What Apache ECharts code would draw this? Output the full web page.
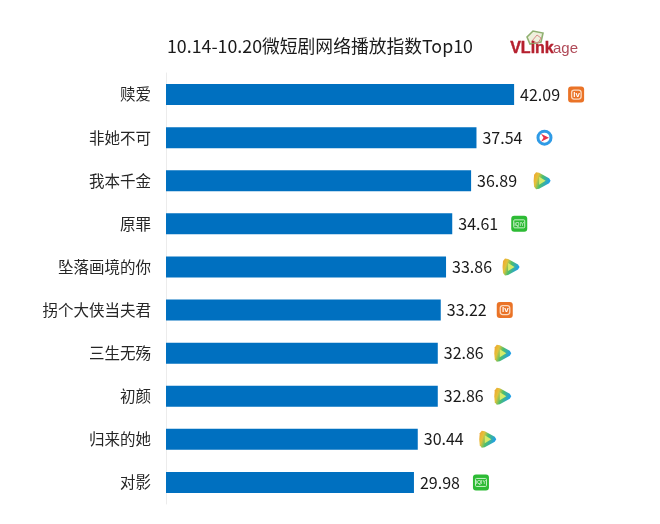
<!DOCTYPE html>
<html>
<head>
<meta charset="utf-8">
<style>
    html, body { margin: 0; padding: 0; background: #fff; }
    #chart { width: 660px; height: 524px; }
</style>
<script src="https://cdn.jsdelivr.net/npm/echarts@6/dist/echarts.min.js"></script>
</head>
<body>
<div id="chart"></div>
<script>
const titleText = '10.14-10.20微短剧网络播放指数Top10';
const dramas = ['赎爱', '非她不可', '我本千金', '原罪', '坠落画境的你', '拐个大侠当夫君', '三生无殇', '初颜', '归来的她', '对影'];
const indexValues = [42.09, 37.54, 36.89, 34.61, 33.86, 33.22, 32.86, 32.86, 30.44, 29.98];
const platforms = ['mango', 'youku', 'tencent', 'iqiyi', 'tencent', 'mango', 'tencent', 'tencent', 'tencent', 'iqiyi'];

// gap from the bar end to the icon centre, it differs a little per row
const iconGaps = [62, 68, 71, 67, 65, 64, 65, 65, 70, 67];
const fontName = '"Noto Sans CJK SC", "Noto Sans", sans-serif';

function roundBox(cx, cy, size, color) {
    return {
        type: 'rect',
        shape: { x: cx - size / 2, y: cy - size / 2, width: size, height: size, r: 3 },
        style: { fill: color }
    };
}

function drawIcon(name, cx, cy) {
    if (name === 'mango') {
        return [
            roundBox(cx, cy, 16, '#ea7327'),
            {
                type: 'rect',
                shape: { x: cx - 4.5, y: cy - 4.5, width: 9.5, height: 9, r: 2.5 },
                style: { fill: 'none', stroke: '#fbd9bf', lineWidth: 1.3 }
            },
            {
                type: 'text',
                style: { x: cx + 0.5, y: cy, text: 'lv', fill: '#fff', fontSize: 8, fontWeight: 'bold', align: 'center', verticalAlign: 'middle' }
            }
        ];
    }
    if (name === 'youku') {
        return [
            { type: 'circle', shape: { cx: cx, cy: cy, r: 6.5 }, style: { fill: '#fff', stroke: '#2f9be6', lineWidth: 3 } },
            {
                type: 'polygon',
                shape: { points: [[cx - 3.5, cy - 4], [cx + 4.5, cy], [cx - 3.5, cy + 4], [cx - 1, cy]] },
                style: { fill: '#e8344a' }
            }
        ];
    }
    if (name === 'iqiyi') {
        return [
            roundBox(cx, cy, 16, '#2dbb35'),
            {
                type: 'rect',
                shape: { x: cx - 5.5, y: cy - 4, width: 11, height: 8, r: 1 },
                style: { fill: 'none', stroke: '#c8f2c8', lineWidth: 1 }
            },
            {
                type: 'text',
                style: { x: cx, y: cy + 0.5, text: 'iQIY', fill: '#fff', fontSize: 5, align: 'center', verticalAlign: 'middle' }
            }
        ];
    }
    // tencent video
    return [
        {
            type: 'polygon',
            shape: { points: [[cx - 6, cy - 8.5], [cx - 3, cy - 8], [cx + 7, cy - 2.5], [cx + 8.5, cy], [cx + 7, cy + 2.5], [cx - 3, cy + 8], [cx - 6, cy + 8.5], [cx - 8, cy + 6], [cx - 8.5, cy], [cx - 8, cy - 6]] },
            style: {
                fill: {
                    type: 'linear', x: 0, y: 0, x2: 1, y2: 0.35,
                    colorStops: [
                        { offset: 0, color: '#f2a02e' },
                        { offset: 0.3, color: '#e3c23a' },
                        { offset: 0.55, color: '#4fbf6a' },
                        { offset: 1, color: '#1f9fe6' }
                    ]
                }
            }
        },
        {
            type: 'polygon',
            shape: { points: [[cx - 3, cy - 4], [cx + 3.5, cy], [cx - 3, cy + 4]] },
            style: { fill: '#d4ec6a' }
        }
    ];
}

const chart = echarts.init(document.getElementById('chart'), null, { renderer: 'canvas' });

const option = {
    animation: false,
    backgroundColor: '#fff',
    title: {
        text: titleText,
        left: 162,
        top: 32,
        textStyle: { fontFamily: fontName, fontSize: 17.8, fontWeight: 'normal', color: '#1a1a1a' }
    },
    grid: { left: 166, top: 73, width: 440, height: 431 },
    xAxis: { type: 'value', min: 0, max: 53.2, show: false },
    yAxis: {
        type: 'category',
        inverse: true,
        data: dramas,
        axisTick: { show: false },
        axisLine: { lineStyle: { color: '#ececec', width: 1 } },
        axisLabel: { fontFamily: fontName, fontSize: 15.5, color: '#262626', margin: 15 }
    },
    series: [
        {
            type: 'bar',
            data: indexValues,
            barWidth: 21,
            itemStyle: { color: '#0070c0' },
            label: {
                show: true,
                position: 'right',
                distance: 6,
                formatter: (p) => p.value.toFixed(2),
                fontFamily: fontName,
                fontSize: 16,
                color: '#1a1a1a'
            }
        },
        {
            type: 'custom',
            silent: true,
            data: indexValues.map((v, i) => [v, i]),
            encode: { x: 0, y: 1 },
            renderItem: (params, api) => {
                const i = params.dataIndex;
                const end = api.coord([api.value(0), i]);
                return { type: 'group', children: drawIcon(platforms[i], end[0] + iconGaps[i], end[1]) };
            }
        }
    ],
    graphic: [
        {
            type: 'polygon',
            shape: { points: [[527, 37], [533, 31], [543, 33], [541, 42], [530, 44]] },
            style: { fill: '#eef0dc', stroke: '#8fb070', lineWidth: 1.6 }
        },
        {
            type: 'polygon',
            shape: { points: [[532, 41], [537, 35], [541, 38], [538, 43]] },
            style: { fill: 'none', stroke: '#d98a8a', lineWidth: 1 }
        },
        {
            type: 'text',
            left: 510,
            top: 40,
            style: { text: 'VLink', fontFamily: '"Liberation Sans", sans-serif', fontSize: 16, fontWeight: 'bold', fill: '#b5202e', stroke: '#b5202e', lineWidth: 0.4 }
        },
        {
            type: 'text',
            left: 553,
            top: 41,
            style: { text: 'age', fontFamily: '"Liberation Sans", sans-serif', fontSize: 15, fill: '#b04a58' }
        }
    ]
};
chart.setOption(option);

// Resize chart on window resize
window.addEventListener('resize', () => {
    chart.resize();
});
</script>
</body>
</html>
